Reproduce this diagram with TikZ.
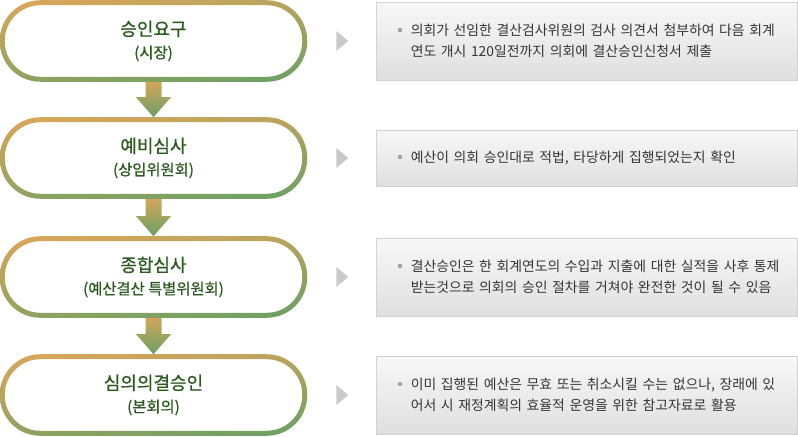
\documentclass[tikz,border=0pt]{standalone}
\usepackage{fontspec}
\setmainfont{Noto Sans CJK KR}
\newfontfamily\stepfont[FakeBold=0.8]{Noto Sans CJK KR}
\usepackage{xcolor}
\usetikzlibrary{positioning, calc, shadings}
\definecolor{capOrange}{HTML}{DCA65A}
\definecolor{capGreen}{HTML}{68A064}
\definecolor{titleGreen}{HTML}{2A5A1E}
\definecolor{noteText}{HTML}{353535}
\definecolor{noteLine}{HTML}{D2D2D2}
\definecolor{pointerGray}{HTML}{C9C9C9}

\newcommand{\notefont}{\fontsize{10.4}{15.75}\selectfont\spaceskip=5pt plus 1pt\relax}
\newcommand{\notebullet}{\hspace*{12pt}\makebox[9.75pt][l]{\textcolor{gray!70}{\rule[2.6pt]{3pt}{3pt}}}}
\newcommand{\noteindent}{\hspace*{21.75pt}}
\newcommand{\steptitle}[1]{{\fontsize{13.5}{17}\selectfont #1}}

\tikzset{
  stepnode/.style={minimum width=230.25pt, minimum height=60.75pt, inner sep=0pt, align=center,
    text=titleGreen, font=\stepfont\fontsize{11.5}{17}\selectfont},
  ring/.style={even odd rule, upper left=capOrange, lower right=capGreen,
    upper right=capOrange!70!capGreen, lower left=capOrange!35!capGreen},
  notebox/.style={draw=noteLine, line width=0.75pt, top color=gray!6, bottom color=gray!25,
    text width=307.75pt, inner xsep=3.75pt, inner ysep=0pt, minimum height=58.5pt,
    align=left, text=noteText, font=\notefont},
  flow/.style={top color=capOrange, bottom color=capGreen},
}

\begin{document}
\begin{tikzpicture}[x=0.75pt, y=-0.75pt, node distance=51.75pt]
    \useasboundingbox (0,0) rectangle (798,436);

    % Steps (capsules)
    \foreach \n/\y/\name/\who in {1/41/승인요구/(시장), 2/158/예비심사/(상임위원회),
                                  3/277/종합심사/(예산결산 특별위원회), 4/395/심의의결승인/(본회의)} {
        \node[stepnode] (s\n) at (153.5,\y) {\steptitle{\name}\\\who};
    }

    % Notes on the right
    \node[notebox, right=of s1] (d1) {\notebullet 의회가 선임한 결산검사위원의 검사 의견서 첨부하여 다음 회계\\
        \noteindent 연도 개시 120일전까지 의회에 결산승인신청서 제출};
    \node[notebox, right=of s2, minimum height=42pt] (d2) {\notebullet 예산이 의회 승인대로 적법, 타당하게 집행되었는지 확인};
    \node[notebox, right=of s3] (d3) {\notebullet 결산승인은 한 회계연도의 수입과 지출에 대한 실적을 사후 통제\\
        \noteindent 받는것으로 의회의 승인 절차를 거쳐야 완전한 것이 될 수 있음};
    \node[notebox, right=of s4] (d4) {\notebullet 이미 집행된 예산은 무효 또는 취소시킬 수는 없으나, 장래에 있\\
        \noteindent 어서 시 재정계획의 효율적 운영을 위한 참고자료로 활용};

    % Block arrows between steps
    \foreach \a/\b in {1/2, 2/3, 3/4} {
        \shade[flow] ($(s\a.south)+(-8,-3)$) -- ($(s\a.south)+(8,-3)$) -- ($(s\b.north)+(8,-20)$)
            -- ($(s\b.north)+(17.5,-20)$) -- (s\b.north) -- ($(s\b.north)+(-17.5,-20)$)
            -- ($(s\b.north)+(-8,-20)$) -- cycle;
    }

    % Gradient rings round the steps
    \foreach \n in {1,...,4} {
        \shade[ring] [rounded corners=30.375pt] (s\n.north west) rectangle (s\n.south east)
            [rounded corners=26.625pt] ($(s\n.north west)+(5,5)$) rectangle ($(s\n.south east)+(-5,-5)$);
    }

    % Pointers
    \foreach \n in {1,...,4} {
        \fill[pointerGray] ($(d\n.west)+(-40,-10)$) -- ($(d\n.west)+(-28,0)$) -- ($(d\n.west)+(-40,10)$) -- cycle;
    }
\end{tikzpicture}
\end{document}
